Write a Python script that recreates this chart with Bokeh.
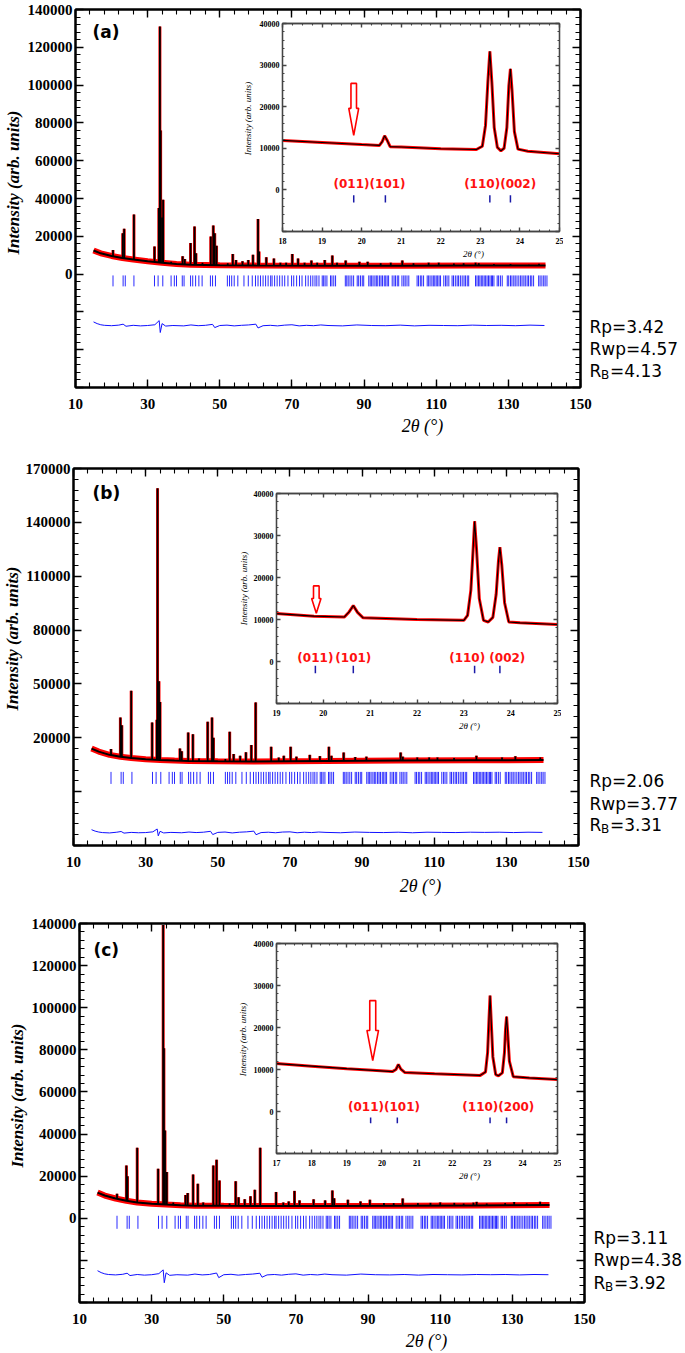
import numpy as np
from bokeh.plotting import figure
from bokeh.models import (Range1d, LinearAxis, FixedTicker, SingleIntervalTicker, Label,
                          BasicTickFormatter)
from bokeh.embed import file_html
from bokeh.resources import INLINE
from bokeh.core.properties import value

SERIF = "Liberation Serif"
SANS = "DejaVu Sans"

# ---------------- data ----------------
# shared Bragg reflection positions (2theta, deg) of the main panels
bragg_main = [20.4, 23.2, 23.8, 26.2, 31.9, 32.9, 34.2, 36.5, 37.4, 38.0, 39.6, 40.1, 41.9, 42.5,
              43.3, 44.2, 45.1, 47.4, 48.0, 48.8, 52.1, 52.7, 53.3, 54.0, 55.0, 56.7, 57.9, 59.0,
              59.9, 60.6, 61.3, 62.0, 62.7, 63.4, 64.1, 64.5, 65.2, 65.9, 66.6, 67.3, 68.0, 68.9,
              69.9, 70.5, 71.3, 72.1, 72.8, 73.8, 74.5, 75.2, 75.8, 76.4, 76.9, 77.5, 78.4, 78.8,
              79.2, 79.7, 80.7, 81.1, 81.6, 82.1, 84.8, 85.2, 85.6, 86.1, 86.6, 87.1, 88.1, 88.5,
              89.0, 89.5, 89.9, 91.3, 91.7, 92.1, 92.5, 93.0, 93.4, 93.8, 94.3, 94.7, 95.1, 95.6,
              96.0, 96.4, 96.8, 97.8, 98.3, 98.7, 99.2, 99.6, 100.5, 101.0, 101.4, 101.9, 102.4,
              104.7, 105.1, 105.6, 106.0, 106.5, 107.5, 107.9, 108.3, 108.8, 109.2, 109.6, 110.0,
              110.4, 110.8, 111.2, 112.1, 112.6, 113.0, 113.5, 114.4, 114.8, 115.3, 115.8, 116.2,
              116.7, 117.2, 117.7, 118.1, 118.6, 119.0, 120.9, 121.3, 121.7, 122.1, 122.5, 122.9,
              123.3, 123.7, 124.1, 124.5, 124.9, 125.3, 125.6, 126.0, 126.9, 127.3, 127.8, 128.3,
              129.7, 130.1, 130.6, 131.0, 131.5, 131.9, 132.4, 132.9, 133.4, 133.8, 134.3, 134.7,
              135.2, 135.6, 136.1, 136.5, 137.0, 138.4, 138.8, 139.3, 139.8, 140.2, 140.7]

diff_x = [15, 16, 17, 18, 20, 22, 23.2, 24, 26, 28, 30, 32, 33.2, 33.5, 34.0, 35, 37, 40, 42, 44,
          46, 48, 48.6, 50, 52, 54, 56, 58, 60, 60.6, 62, 64, 66, 68, 70, 72, 74, 76, 78, 80,
          84, 88, 92, 96, 100, 104, 108, 112, 116, 120, 124, 128, 132, 136, 140]

# panel (a)
bg_a_x = [15, 17, 20, 23, 26, 30, 34, 38, 42, 50, 60, 80, 100, 120, 140.3]
bg_a_y = [12500, 11000, 9600, 8500, 7700, 6800, 6000, 5400, 5000, 4700, 4500, 4400, 4400, 4500, 4600]
pk_a_x = [20.4, 23.1, 23.5, 26.2, 31.9, 33.1, 33.4, 33.6, 34.0, 34.3, 36.5, 39.7, 40.3, 41.9, 43.0,
          43.4, 45.2, 47.5, 48.2, 48.6, 49.1, 52.2, 53.6, 54.5, 56.3, 57.9, 59.2, 60.6, 60.9, 62.9,
          65.0, 66.8, 68.4, 70.1, 71.7, 73.5, 75.4, 77.0, 79.1, 81.2, 82.5, 84.9, 88.7, 91.0, 94.6,
          97.4, 100.6, 103.7, 107.9, 110.7, 114.9, 117.6, 120.9, 121.8, 126.0, 130.6, 135.7, 138.5]
pk_a_y = [12800, 21600, 24000, 31500, 14600, 35000, 131000, 76000, 30000, 39300, 6500, 9500, 8000,
          16500, 25200, 11000, 6000, 19900, 25700, 21600, 15000, 5800, 10700, 7500, 6800, 7500,
          10200, 29200, 12000, 8900, 8300, 6000, 6000, 10700, 8200, 6000, 7200, 6000, 7500, 9800,
          6000, 7200, 6500, 6500, 5700, 6000, 7200, 5700, 6000, 6000, 5600, 5800, 6000, 5800,
          5400, 5300, 5000, 5500]
pk_a_b = [9500, 8500, 8300, 7700, 6400, 6200, 6100, 6100, 6000, 5950, 5600, 5200, 5200, 5000, 4950,
          4950, 4850, 4800, 4750, 4750, 4700, 4650, 4650, 4600, 4600, 4550, 4500, 4500, 4500, 4500,
          4500, 4450, 4450, 4450, 4450, 4450, 4400, 4400, 4400, 4400, 4400, 4400, 4400, 4400, 4400,
          4400, 4400, 4400, 4450, 4450, 4450, 4500, 4500, 4500, 4550, 4550, 4600, 4600]
diff_a = [-25300, -26200, -26800, -27100, -27300, -27000, -26500, -27600, -27100, -27400,
          -27200, -26800, -24600, -30900, -26200, -27500, -27200, -27400, -26900, -27300,
          -27100, -26600, -28300, -27200, -27000, -27400, -27100, -26900, -26500, -28500,
          -27300, -27100, -27400, -27000, -26800, -27400, -27100, -27300, -26900, -27200,
          -27400, -26900, -27200, -27300, -27000, -27400, -27100, -27200, -27300, -27000,
          -27200, -27100, -27300, -27000, -27200]
R_a = ["3.42", "4.57", "4.13"]

# panel (b)
bg_b_x = [15, 17, 20, 23, 26, 30, 34, 38, 42, 50, 60, 80, 100, 120, 140.3]
bg_b_y = [14000, 12300, 10500, 9400, 8700, 8000, 7600, 7300, 7100, 6900, 6800, 7000, 7300, 7500, 7600]
pk_b_x = [20.4, 23.0, 23.4, 26.0, 31.8, 33.1, 33.3, 33.7, 34.0, 39.5, 40.0, 41.8, 43.1, 44.8, 47.2,
          48.4, 48.8, 52.1, 53.3, 54.4, 56.2, 57.8, 59.3, 60.5, 64.8, 66.9, 68.3, 70.2, 71.8, 75.5,
          78.3, 80.8, 81.5, 84.9, 88.1, 91.2, 100.7, 101.3, 105.3, 108.6, 110.9, 115.5, 121.7,
          128.8, 132.5, 139.4]
pk_b_y = [13700, 31300, 27000, 46200, 28500, 30000, 159000, 51500, 40000, 14000, 12500, 23000,
          22000, 8500, 29000, 31300, 20000, 8200, 23300, 11000, 10000, 12000, 16000, 39700, 15000,
          9000, 10000, 15000, 9500, 10500, 9800, 15000, 10000, 11800, 9300, 9500, 11800, 9500,
          9000, 9000, 9000, 8800, 10000, 9000, 9700, 9000]
pk_b_b = [10500, 9600, 9500, 8800, 8200, 8000, 8000, 7900, 7800, 7300, 7300, 7200, 7100, 7100, 7000,
          7000, 7000, 6900, 6900, 6900, 6900, 6900, 6800, 6800, 6800, 6800, 6900, 6900, 6900, 6900,
          7000, 7000, 7000, 7100, 7100, 7200, 7300, 7300, 7300, 7400, 7400, 7400, 7500, 7500,
          7600, 7600]
diff_b = [-31200, -32000, -32500, -32800, -33000, -32600, -32200, -33100, -32700, -32900,
          -32800, -32400, -30800, -34600, -32100, -33000, -32700, -32900, -32500, -32800,
          -32600, -32100, -33900, -32700, -32500, -33000, -32600, -32400, -32000, -34000,
          -32800, -32600, -32900, -32500, -32400, -32900, -32600, -32800, -32500, -32700,
          -32900, -32500, -32700, -32800, -32600, -32900, -32600, -32700, -32800, -32600,
          -32700, -32600, -32800, -32600, -32700]
R_b = ["2.06", "3.77", "3.31"]

# panel (c)
bg_c_x = [15, 17, 20, 23, 26, 30, 34, 38, 42, 50, 60, 80, 100, 120, 140.3]
bg_c_y = [12200, 10800, 9400, 8300, 7500, 6900, 6500, 6200, 6000, 5900, 5800, 5800, 5900, 6100, 6300]
pk_c_x = [20.4, 23.0, 23.3, 26.0, 31.8, 33.2, 33.4, 33.7, 34.2, 36.0, 39.4, 40.0, 41.5, 42.8, 44.3,
          47.1, 48.0, 48.8, 51.6, 53.3, 54.1, 55.8, 57.4, 58.6, 60.1, 64.5, 66.5, 68.0, 69.6, 71.0,
          74.9, 78.1, 80.1, 80.6, 84.4, 87.9, 90.5, 94.4, 97.1, 99.6, 103.8, 107.3, 110.0, 113.9,
          116.5, 119.2, 120.1, 122.9, 128.0, 130.5, 134.0, 137.7]
pk_c_y = [11600, 25100, 20000, 33500, 23500, 139300, 80800, 41700, 22000, 7500, 11000, 12000,
          20800, 16400, 7500, 25100, 27800, 18000, 7000, 17600, 10000, 9000, 10500, 13500, 33500,
          12500, 7500, 8000, 13000, 8500, 9000, 8500, 13200, 9500, 8800, 8000, 8800, 7200, 7200,
          9400, 7200, 7300, 7500, 7300, 7000, 7400, 7800, 7000, 7200, 7700, 7000, 7800]
pk_c_b = [9400, 8400, 8300, 7500, 6800, 6600, 6600, 6550, 6500, 6350, 6200, 6150, 6050, 6000, 6000,
          5950, 5950, 5950, 5900, 5900, 5900, 5900, 5850, 5850, 5800, 5800, 5800, 5800, 5800, 5800,
          5800, 5800, 5800, 5800, 5850, 5850, 5850, 5850, 5900, 5900, 5900, 5950, 6000, 6000,
          6050, 6100, 6100, 6100, 6150, 6200, 6200, 6250]
diff_c = [-24900, -25800, -26400, -26700, -26900, -26600, -26100, -27200, -26700, -27000,
          -26800, -26300, -24500, -30600, -25900, -27100, -26800, -27000, -26500, -26900,
          -26700, -26000, -28200, -26800, -26600, -27000, -26700, -26500, -26100, -28000,
          -26900, -26700, -27000, -26600, -26400, -27000, -26700, -26900, -26500, -26800,
          -27000, -26500, -26800, -26900, -26700, -27000, -26700, -26800, -26900, -26700,
          -26800, -26700, -26900, -26700, -26800]
R_c = ["3.11", "4.38", "3.92"]

# insets (zoom of the low-angle region)
ins_a_x = [18.0, 19.0, 20.0, 20.45, 20.52, 20.58, 20.64, 20.72, 21.0, 22.0, 22.9, 23.05, 23.13,
           23.19, 23.24, 23.29, 23.35, 23.43, 23.52, 23.6, 23.67, 23.72, 23.76, 23.8, 23.86,
           23.95, 24.2, 25.0]
ins_a_y = [11900, 11400, 10900, 10700, 11600, 13000, 12000, 10400, 10300, 9900, 9700, 10500,
           15500, 26000, 33300, 26000, 15000, 10200, 9400, 10000, 15000, 25000, 29100, 24000,
           14000, 9800, 9300, 8700]
ins_a_hkl_pos = [19.8, 20.6, 23.24, 23.76]
ins_a_hkl_txt = ["(011)(101)", "(110)(002)"]
ins_a_hkl_grp = [[0, 1], [2, 3]]

ins_b_x = [19.0, 19.8, 20.45, 20.55, 20.64, 20.73, 20.85, 22.0, 23.0, 23.08, 23.15, 23.2, 23.23,
           23.27, 23.33, 23.42, 23.52, 23.62, 23.69, 23.74, 23.77, 23.81, 23.87, 23.96, 24.2, 25.0]
ins_b_y = [11400, 10800, 10600, 11800, 13300, 11700, 10400, 10000, 9800, 11000, 17000, 27000,
           33400, 27000, 15000, 9800, 9400, 10500, 16000, 24000, 27200, 23000, 14000, 9400, 9200,
           8800]
ins_b_hkl_pos = [19.83, 20.64, 23.23, 23.77]
ins_b_hkl_txt = ["(011)", "(101)", "(110) (002)"]
ins_b_hkl_grp = [[0], [1], [2, 3]]

ins_c_x = [17.0, 18.0, 19.0, 19.74, 20.3, 20.4, 20.47, 20.54, 20.65, 21.5, 22.8, 22.95, 23.01,
           23.05, 23.08, 23.11, 23.16, 23.24, 23.32, 23.43, 23.49, 23.52, 23.55, 23.58, 23.63,
           23.74, 24.2, 25.0]
ins_c_y = [11400, 10800, 10200, 9800, 9500, 10000, 11200, 10100, 9300, 9000, 8600, 9400, 14000,
           22000, 27600, 22000, 13000, 8800, 8500, 9200, 14000, 19500, 22600, 19000, 12000, 8300,
           8000, 7600]
ins_c_hkl_pos = [19.68, 20.44, 23.08, 23.55]
ins_c_hkl_txt = ["(011)(101)", "(110)(200)"]
ins_c_hkl_grp = [[0, 1], [2, 3]]

# arrow marking the (011) position: x, top, neck, tip (intensity)
arrow_a = [19.80, 25600, 19600, 13100]
arrow_b = [19.85, 18000, 15000, 11500]
arrow_c = [19.74, 26400, 19300, 12100]

# ---------------- helpers ----------------
PAGE_W, PAGE_H = 685, 1353


def place(left, top):
    return {"position": "absolute", "left": f"{left}px", "top": f"{top}px"}


def style_axis(ax, size, standoff, tick_in, minor_in, color, lw, labels=True):
    ax.major_tick_in = tick_in
    ax.major_tick_out = 0
    ax.minor_tick_in = minor_in
    ax.minor_tick_out = 0
    ax.axis_line_color = color
    ax.axis_line_width = lw
    ax.major_tick_line_color = color
    ax.minor_tick_line_color = color
    ax.major_tick_line_width = 1.4
    ax.minor_tick_line_width = 1.1
    ax.major_label_standoff = standoff if labels else 0
    ax.major_label_text_font = SERIF
    ax.major_label_text_font_style = "bold"
    ax.major_label_text_font_size = size if labels else "1px"
    ax.major_label_text_color = "black" if labels else None


def no_grid(p):
    p.xgrid.visible = False
    p.ygrid.visible = False


def main_panel(pos, geom, yr, yticks, yminor, bgx, bgy, pkx, pky, pkb, diff, bragg_y):
    bl, bt, fh, bb = geom
    fw = 505
    br = PAGE_W - bl - fw
    p = figure(width=PAGE_W, height=bt + fh + bb, x_range=Range1d(10, 150),
               y_range=Range1d(*yr), output_backend="svg", toolbar_location=None,
               min_border_left=bl, min_border_right=br, min_border_top=bt,
               min_border_bottom=bb, x_axis_location=None, y_axis_location=None,
               background_fill_color="white", border_fill_color="white",
               outline_line_color="black", outline_line_width=2, styles=place(*pos))
    no_grid(p)
    xt = FixedTicker(ticks=list(range(10, 151, 20)), minor_ticks=list(range(10, 151, 4)))
    yt = FixedTicker(ticks=yticks, minor_ticks=yminor)
    overrides = {t: "" for t in yticks if t < 0 or t == yr[0]}
    bottom = LinearAxis(ticker=xt)
    style_axis(bottom, "15px", 11, 8, 5, "black", 2)
    left = LinearAxis(ticker=yt, major_label_overrides=overrides,
                      formatter=BasicTickFormatter(use_scientific=False))
    style_axis(left, "15px", 3, 8, 5, "black", 2)
    top = LinearAxis(ticker=xt)
    style_axis(top, "1px", 0, 8, 5, "black", 2, labels=False)
    right = LinearAxis(ticker=yt)
    style_axis(right, "1px", 0, 8, 5, "black", 2, labels=False)
    p.add_layout(bottom, "below")
    p.add_layout(left, "left")
    p.add_layout(top, "above")
    p.add_layout(right, "right")

    # observed (red) and calculated (black) profiles
    p.line(bgx, bgy, color="#ff0000", line_width=6)
    p.segment(x0=pkx, y0=pkb, x1=pkx, y1=pky, color="#ff0000", line_width=3)
    p.line(bgx, bgy, color="black", line_width=2)
    p.segment(x0=pkx, y0=pkb, x1=pkx, y1=pky, color="black", line_width=1.8)
    # Bragg positions
    p.segment(x0=bragg_main, x1=bragg_main, y0=bragg_y[0], y1=bragg_y[1],
              color="#2a2aff", line_width=1)
    # difference curve
    p.line(diff_x, diff, color="#1010ff", line_width=1)
    return p


def inset_panel(pos, x0, fw, fh, ix, iy, hkl_pos, hkl_txt, hkl_grp, hkl_y, tick_y, arrow,
                arrow_w):
    bl, br, bt, bb = 42, 4, 4, 30
    p = figure(width=bl + fw + br, height=bt + fh + bb, x_range=Range1d(x0, 25),
               y_range=Range1d(-10000, 40000), output_backend="svg", toolbar_location=None,
               min_border_left=bl, min_border_right=br, min_border_top=bt, min_border_bottom=bb,
               x_axis_location=None, y_axis_location=None, background_fill_color="white",
               border_fill_color=None, outline_line_color="#444444", outline_line_width=1.3,
               styles=place(*pos))
    no_grid(p)
    xt = SingleIntervalTicker(interval=1, num_minor_ticks=4)
    yt = SingleIntervalTicker(interval=10000, num_minor_ticks=5)
    bottom = LinearAxis(ticker=xt)
    style_axis(bottom, "8px", 6, 4, 2, "#444444", 1.3)
    left = LinearAxis(ticker=yt, major_label_overrides={-10000: ""},
                      formatter=BasicTickFormatter(use_scientific=False))
    style_axis(left, "8px", 3, 4, 2, "#444444", 1.3)
    top = LinearAxis(ticker=xt)
    style_axis(top, "1px", 0, 4, 2, "#444444", 1.3, labels=False)
    right = LinearAxis(ticker=yt)
    style_axis(right, "1px", 0, 4, 2, "#444444", 1.3, labels=False)
    p.add_layout(bottom, "below")
    p.add_layout(left, "left")
    p.add_layout(top, "above")
    p.add_layout(right, "right")

    p.line(ix, iy, color="#ff0000", line_width=3)
    p.line(ix, iy, color="black", line_width=1.1)
    p.segment(x0=hkl_pos, x1=hkl_pos, y0=tick_y[0], y1=tick_y[1], color="#1a1aa8",
              line_width=1.5)
    lx = [float(np.mean([hkl_pos[i] for i in g])) for g in hkl_grp]
    p.text(x=lx, y=[hkl_y] * len(lx), text=hkl_txt, text_font=value(SANS),
           text_font_style="bold", text_font_size="12px", text_color="#ff1010",
           text_align="center", text_baseline="middle")
    ax_, top_, neck, tip = arrow
    sw, hw = arrow_w
    p.patch([ax_ - sw, ax_ + sw, ax_ + sw, ax_ + hw, ax_, ax_ - hw, ax_ - sw],
            [top_, top_, neck, neck, tip, neck, neck],
            fill_color="white", line_color="#ff0000", line_width=1.6)
    return p


# ---------------- panels ----------------
main_a = main_panel((0, 0), (75, 9, 378, 71), (-60000, 140000),
                    list(range(-60000, 140001, 20000)), list(range(-60000, 140001, 4000)),
                    bg_a_x, bg_a_y, pk_a_x, pk_a_y, pk_a_b, diff_a, (-700, -6500))
ins_a = inset_panel((240, 19), 18, 277, 208, ins_a_x, ins_a_y, ins_a_hkl_pos,
                    ins_a_hkl_txt, ins_a_hkl_grp, 1300, (-1300, -3000), arrow_a, (0.07, 0.125))

main_b = main_panel((0, 458), (73, 10, 377, 68), (-40000, 170000),
                    list(range(-40000, 170001, 30000)), list(range(-40000, 170001, 6000)),
                    bg_b_x, bg_b_y, pk_b_x, pk_b_y, pk_b_b, diff_b, (1000, -5700))
ins_b = inset_panel((234, 489), 19, 281, 210, ins_b_x, ins_b_y, ins_b_hkl_pos,
                    ins_b_hkl_txt, ins_b_hkl_grp, 750, (-1000, -2800), arrow_b, (0.06, 0.1))

main_c = main_panel((0, 913), (79, 10, 379, 51), (-40000, 140000),
                    list(range(-40000, 140001, 20000)), list(range(-40000, 140001, 4000)),
                    bg_c_x, bg_c_y, pk_c_x, pk_c_y, pk_c_b, diff_c, (1200, -5000))
ins_c = inset_panel((234, 939), 17, 281, 210, ins_c_x, ins_c_y, ins_c_hkl_pos,
                    ins_c_hkl_txt, ins_c_hkl_grp, 1000, (-1400, -2800), arrow_c, (0.085, 0.165))

# transparent full-page layer carrying the texts that sit outside the plot frames
ov = figure(width=PAGE_W, height=PAGE_H, x_range=Range1d(0, PAGE_W),
            y_range=Range1d(PAGE_H, 0), output_backend="svg", toolbar_location=None,
            min_border=0, x_axis_location=None, y_axis_location=None,
            background_fill_color=None, border_fill_color=None, outline_line_color=None,
            styles=place(0, 0))
no_grid(ov)


def txt(x, y, text, font, size, style="normal", angle=0.0, align="left"):
    ov.add_layout(Label(x=x, y=y, text=text, text_font=font, text_font_size=size,
                        text_font_style=style, text_align=align, text_baseline="middle",
                        angle=angle, text_color="black"))


panel_txt = [
    # letter pos, y-title pos, x-title pos, R x, R ys, inset y-title, inset x-title
    ("(a)", (92, 31), (13, 182), (422, 425), 589, (326, 348, 370), (247, 118), (473, 253), R_a),
    ("(b)", (92, 492), (12, 638), (420, 885), 589, (780, 803, 824), (243, 588), (469, 725), R_b),
    ("(c)", (93, 949), (17, 1095), (426, 1340), 593, (1237, 1259, 1282), (242, 1039), (469, 1175), R_c),
]
for letter, lp, yp, xp, rx, rys, iyp, ixp, rv in panel_txt:
    txt(lp[0], lp[1], letter, SANS, "17px", "bold")
    txt(yp[0], yp[1], "Intensity (arb. units)", SERIF, "17px", "bold italic",
        angle=np.pi / 2, align="center")
    txt(xp[0], xp[1], "2\u03b8 (\u00b0)", SERIF, "18px", "italic", align="center")
    txt(rx, rys[0], "Rp=" + rv[0], SANS, "17px")
    txt(rx, rys[1], "Rwp=" + rv[1], SANS, "17px")
    txt(rx, rys[2], "R", SANS, "17px")
    txt(rx + 11.5, rys[2] + 4, "B", SANS, "12px")
    txt(rx + 20.5, rys[2], "=" + rv[2], SANS, "17px")
    txt(iyp[0], iyp[1], "Intensity (arb. units)", SERIF, "9px", "italic",
        angle=np.pi / 2, align="center")
    txt(ixp[0], ixp[1], "2\u03b8 (\u00b0)", SERIF, "9px", "italic", align="center")

# independent roots (no shared frame alignment); later ones are drawn on top
roots = [main_a, main_b, main_c, ins_a, ins_b, ins_c, ov]
open("out.html", "w").write(file_html(roots, INLINE))
